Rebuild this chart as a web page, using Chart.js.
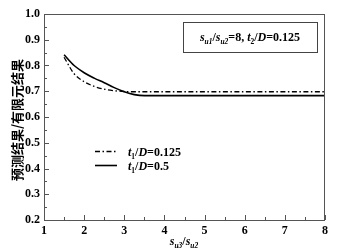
<!DOCTYPE html>
<html>
<head>
<meta charset="utf-8">
<script src="https://cdn.jsdelivr.net/npm/chart.js@4.4.1/dist/chart.umd.min.js"></script>
<style>
  html, body { margin: 0; padding: 0; background: #fff; }
</style>
</head>
<body>
<canvas id="grafico" width="343" height="251"></canvas>
<script>
// valores
const razao = [1.5, 1.75, 2, 2.25, 2.5, 2.75, 3, 3.25, 3.5, 4, 5, 6, 7, 8];
const serieT0125 = [0.832, 0.768, 0.737, 0.719, 0.708, 0.702, 0.699, 0.698, 0.698, 0.698, 0.698, 0.698, 0.698, 0.698];
const serieT05 = [0.842, 0.800, 0.772, 0.751, 0.733, 0.714, 0.698, 0.687, 0.683, 0.683, 0.683, 0.683, 0.683, 0.683];
const ticksX = [1, 2, 3, 4, 5, 6, 7, 8];
const ticksY = [0.2, 0.3, 0.4, 0.5, 0.6, 0.7, 0.8, 0.9, 1.0];

const serif = '"Liberation Serif", "Times New Roman", serif';
const corEixo = '#555';

function pontos(ys) {
    return razao.map((x, i) => ({ x: x, y: ys[i] }));
}

// desenha texto com partes em itálico e subscrito
function textoRico(ctx, partes, x, y, size, align) {
    let total = 0;
    partes.forEach(p => {
        const s = p.sub ? size * 0.62 : size;
        ctx.font = (p.it ? 'italic ' : '') + 'bold ' + s + 'px ' + serif;
        p.w = ctx.measureText(p.t).width;
        total += p.w;
    });
    let cx = align === 'center' ? x - total / 2 : x;
    ctx.textAlign = 'left';
    ctx.textBaseline = 'alphabetic';
    partes.forEach(p => {
        const s = p.sub ? size * 0.62 : size;
        ctx.font = (p.it ? 'italic ' : '') + 'bold ' + s + 'px ' + serif;
        ctx.fillText(p.t, cx, p.sub ? y + size * 0.22 : y);
        cx += p.w;
    });
}

const decoracao = {
    id: 'decoracao',
    afterDraw(chart) {
        const ctx = chart.ctx;
        const a = chart.chartArea;
        const sx = chart.scales.x;
        const sy = chart.scales.y;
        ctx.save();
        // moldura
        ctx.strokeStyle = corEixo;
        ctx.lineWidth = 1;
        ctx.strokeRect(a.left + 0.5, a.top + 0.5, a.right - a.left - 1, a.bottom - a.top);
        // ticks para dentro
        ctx.beginPath();
        for (let v = 1; v <= 8.001; v += 0.5) {
            const px = Math.round(sx.getPixelForValue(v)) + 0.5;
            const len = Math.abs(v - Math.round(v)) < 0.01 ? 5 : 3;
            ctx.moveTo(px, a.bottom);
            ctx.lineTo(px, a.bottom - len);
        }
        for (let v = 0.2; v <= 1.001; v += 0.05) {
            const py = Math.round(sy.getPixelForValue(v)) + 0.5;
            const major = Math.abs(v * 10 - Math.round(v * 10)) < 0.01;
            ctx.moveTo(a.left, py);
            ctx.lineTo(a.left + (major ? 5 : 3), py);
        }
        ctx.stroke();

        // caixa de anotação
        ctx.strokeStyle = '#444';
        ctx.strokeRect(183.5, 22.5, 134, 30);
        ctx.fillStyle = '#000';
        textoRico(ctx, [
            { t: 's', it: true }, { t: 'u1', it: true, sub: true }, { t: '/' },
            { t: 's', it: true }, { t: 'u2', it: true, sub: true }, { t: '=8, ' },
            { t: 't', it: true }, { t: '2', sub: true }, { t: '/' },
            { t: 'D', it: true }, { t: '=0.125' }
        ], 250, 41, 12, 'center');

        // legenda
        ctx.strokeStyle = '#000';
        ctx.lineWidth = 1.3;
        ctx.setLineDash([5, 2.5, 1.5, 2.5]);
        ctx.beginPath();
        ctx.moveTo(95, 151.5);
        ctx.lineTo(117, 151.5);
        ctx.stroke();
        ctx.setLineDash([]);
        ctx.lineWidth = 1.6;
        ctx.beginPath();
        ctx.moveTo(95, 165.5);
        ctx.lineTo(117, 165.5);
        ctx.stroke();
        textoRico(ctx, [{ t: 't', it: true }, { t: '1', sub: true }, { t: '/' }, { t: 'D', it: true }, { t: '=0.125' }], 128, 156, 12, 'left');
        textoRico(ctx, [{ t: 't', it: true }, { t: '1', sub: true }, { t: '/' }, { t: 'D', it: true }, { t: '=0.5' }], 128, 170, 12, 'left');

        // título do eixo x
        textoRico(ctx, [
            { t: 's', it: true }, { t: 'u3', it: true, sub: true }, { t: '/' },
            { t: 's', it: true }, { t: 'u2', it: true, sub: true }
        ], 184, 245, 12, 'center');

        // título do eixo y
        ctx.translate(17, 120);
        ctx.rotate(-Math.PI / 2);
        ctx.font = 'bold 13px "Noto Sans CJK SC", sans-serif';
        ctx.textAlign = 'center';
        ctx.textBaseline = 'middle';
        ctx.fillText('预测结果/有限元结果', 0, 0);
        ctx.restore();
    }
};

const ctx = document.getElementById('grafico').getContext('2d');
new Chart(ctx, {
    type: 'line',
    data: {
        datasets: [{
            label: 't1/D=0.125',
            data: pontos(serieT0125),
            borderColor: '#000',
            borderWidth: 1.3,
            borderDash: [5, 2.5, 1.5, 2.5],
            pointRadius: 0,
            cubicInterpolationMode: 'monotone',
            fill: false
        }, {
            label: 't1/D=0.5',
            data: pontos(serieT05),
            borderColor: '#000',
            borderWidth: 1.6,
            pointRadius: 0,
            cubicInterpolationMode: 'monotone',
            fill: false
        }]
    },
    options: {
        responsive: false,
        animation: false,
        devicePixelRatio: 1,
        layout: { padding: { top: 14, right: 18, left: 0, bottom: 0 } },
        plugins: {
            legend: { display: false },
            tooltip: { enabled: false }
        },
        scales: {
            x: {
                type: 'linear',
                min: 1,
                max: 8,
                afterFit: s => { s.height = 31; },
                afterBuildTicks: s => { s.ticks = ticksX.map(v => ({ value: v })); },
                grid: { display: false, drawTicks: false },
                border: { display: false },
                ticks: {
                    color: '#000',
                    padding: 4,
                    font: { family: serif, size: 12, weight: 'bold' },
                    callback: v => String(v)
                }
            },
            y: {
                min: 0.2,
                max: 1.0,
                afterFit: s => { s.width = 44; },
                afterBuildTicks: s => { s.ticks = ticksY.map(v => ({ value: v })); },
                grid: { display: false, drawTicks: false },
                border: { display: false },
                ticks: {
                    color: '#000',
                    padding: 4,
                    font: { family: serif, size: 12, weight: 'bold' },
                    callback: v => v.toFixed(1)
                }
            }
        }
    },
    plugins: [decoracao]
});
</script>
</body>
</html>
